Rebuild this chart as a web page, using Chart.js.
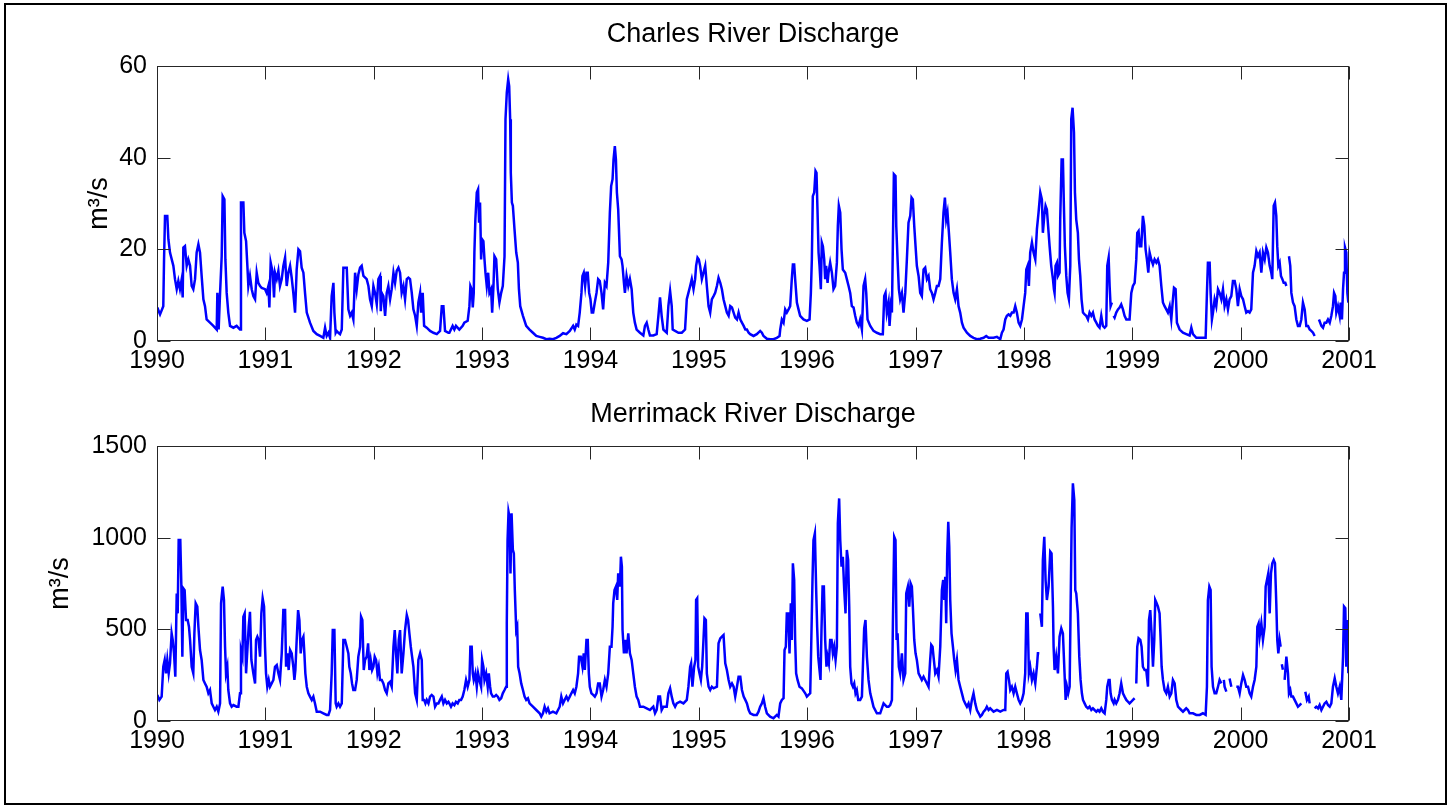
<!DOCTYPE html>
<html>
<head>
<meta charset="utf-8">
<title>Charles and Merrimack River Discharge, 1990–2001</title>
<script src="https://cdn.jsdelivr.net/npm/chart.js@4.4.1/dist/chart.umd.min.js"></script>
<style>
  html, body { margin: 0; padding: 0; background: #ffffff; }
  body { width: 1452px; height: 809px; position: relative; overflow: hidden; }
  #charlesCanvas { position: absolute; left: 0; top: 0; }
  #merrimackCanvas { position: absolute; left: 0; top: 380px; }
  .figure-frame {
    position: absolute; left: 4px; top: 3px; width: 1443px; height: 802px;
    border: 2px solid #000000; box-sizing: border-box; pointer-events: none;
  }
</style>
</head>
<body>
<canvas id="charlesCanvas" width="1452" height="380"></canvas>
<canvas id="merrimackCanvas" width="1452" height="429"></canvas>
<div class="figure-frame"></div>
<script>
// ---- Axis ticks ----
const yearTicks = [1990, 1991, 1992, 1993, 1994, 1995, 1996, 1997, 1998, 1999, 2000, 2001];
const charlesFlowTicks = [0, 20, 40, 60];
const merrimackFlowTicks = [0, 500, 1000, 1500];

// ---- Charles River discharge (m^3/s), decimal year / value; null = missing record ----
const charlesYears = [
  1990.003,1990.028,1990.058,1990.065,1990.074,1990.095,1990.105,1990.12,1990.151,1990.166,
  1990.182,1990.197,1990.212,1990.228,1990.237,1990.243,1990.258,1990.274,1990.289,1990.305,
  1990.32,1990.335,1990.351,1990.366,1990.382,1990.397,1990.412,1990.428,1990.443,1990.458,
  1990.489,1990.52,1990.551,1990.557,1990.569,1990.582,1990.597,1990.606,1990.622,1990.631,
  1990.643,1990.658,1990.674,1990.705,1990.735,1990.766,1990.775,1990.797,1990.806,1990.822,
  1990.834,1990.843,1990.858,1990.874,1990.889,1990.905,1990.92,1990.935,1990.951,1990.966,
  1990.997,1991.012,1991.028,1991.037,1991.049,1991.068,1991.08,1991.089,1991.105,1991.12,
  1991.135,1991.151,1991.166,1991.182,1991.197,1991.212,1991.228,1991.243,1991.258,1991.274,
  1991.289,1991.305,1991.32,1991.335,1991.351,1991.366,1991.382,1991.412,1991.443,1991.474,
  1991.505,1991.535,1991.551,1991.566,1991.582,1991.597,1991.612,1991.628,1991.637,1991.649,
  1991.658,1991.674,1991.689,1991.705,1991.72,1991.751,1991.766,1991.782,1991.797,1991.812,
  1991.828,1991.843,1991.858,1991.874,1991.889,1991.905,1991.935,1991.951,1991.966,1991.982,
  1991.997,1992.012,1992.028,1992.043,1992.058,1992.065,1992.074,1992.089,1992.105,1992.12,
  1992.135,1992.151,1992.166,1992.182,1992.197,1992.212,1992.228,1992.243,1992.258,1992.274,
  1992.289,1992.305,1992.32,1992.335,1992.351,1992.366,1992.382,1992.397,1992.412,1992.428,
  1992.437,1992.452,1992.465,1992.489,1992.52,1992.551,1992.582,1992.612,1992.628,1992.643,
  1992.658,1992.689,
  1992.698,1992.728,1992.744,1992.759,1992.79,1992.821,1992.836,1992.867,1992.883,1992.892,
  1992.904,1992.914,1992.923,1992.929,1992.938,1992.951,1992.963,1992.972,1992.981,1992.991,
  1993.0,1993.012,1993.022,1993.031,1993.043,1993.056,1993.068,1993.083,1993.093,1993.105,
  1993.114,1993.13,1993.145,1993.16,1993.176,1993.191,1993.207,1993.216,1993.228,1993.241,
  1993.25,1993.259,1993.265,1993.275,1993.284,1993.299,1993.315,1993.33,1993.34,1993.352,
  1993.377,1993.407,1993.438,1993.469,1993.5,1993.531,1993.562,1993.593,1993.623,1993.654,
  1993.685,1993.716,1993.747,1993.778,1993.809,1993.84,1993.855,1993.87,1993.886,1993.901,
  1993.917,1993.926,1993.938,1993.951,1993.963,1993.975,1993.988,1994.0,1994.012,1994.025,
  1994.04,1994.056,1994.071,1994.086,1994.102,1994.117,1994.133,1994.148,1994.164,1994.179,
  1994.191,1994.204,1994.213,1994.225,1994.235,1994.244,1994.256,1994.272,1994.287,1994.296,
  1994.309,1994.318,1994.333,1994.349,1994.364,1994.38,1994.395,1994.41,1994.426,1994.457,
  1994.488,1994.503,1994.519,1994.534,1994.549,1994.58,1994.611,1994.627,1994.642,1994.657,
  1994.673,1994.704,1994.719,1994.735,1994.75,1994.759,1994.781,1994.812,1994.843,1994.873,
  1994.889,1994.904,1994.92,1994.935,1994.951,1994.966,1994.975,1994.988,1995.0,1995.012,
  1995.028,1995.043,1995.059,1995.074,1995.09,1995.105,1995.12,1995.136,1995.151,1995.167,
  1995.182,1995.198,1995.213,1995.228,1995.244,1995.259,1995.275,1995.29,1995.306,1995.321,
  1995.336,1995.352,1995.367,1995.383,1995.398,1995.414,1995.429,1995.444,1995.46,
  1995.474,1995.505,1995.535,1995.566,1995.582,1995.597,1995.628,1995.658,1995.689,1995.72,
  1995.745,1995.751,1995.766,1995.782,1995.797,1995.812,1995.828,1995.843,1995.858,1995.868,
  1995.88,1995.889,1995.905,1995.92,1995.935,1995.966,1995.997,1996.022,1996.034,1996.043,
  1996.052,1996.065,1996.077,1996.086,1996.095,1996.105,1996.114,1996.126,1996.135,1996.145,
  1996.157,1996.166,1996.175,1996.188,1996.197,1996.212,1996.228,1996.243,1996.258,1996.274,
  1996.283,1996.292,1996.305,1996.317,1996.329,1996.351,1996.366,1996.382,1996.397,1996.412,
  1996.428,1996.443,1996.458,1996.474,1996.489,1996.505,1996.52,1996.535,1996.545,1996.557,
  1996.582,1996.612,1996.643,1996.674,1996.698,1996.711,1996.723,1996.735,1996.751,1996.76,
  1996.772,1996.782,1996.791,1996.8,1996.815,1996.822,1996.834,1996.846,1996.858,1996.874,
  1996.889,1996.905,1996.92,1996.935,1996.951,1996.963,1996.975,1996.988,1997.0,1997.012,
  1997.028,1997.043,1997.058,1997.074,1997.089,1997.105,1997.12,1997.135,1997.151,1997.166,
  1997.182,1997.197,1997.212,1997.228,1997.243,1997.258,1997.271,1997.283,1997.295,1997.308,
  1997.32,1997.335,1997.351,1997.366,1997.382,1997.397,1997.412,1997.428,1997.443,1997.474,
  1997.505,1997.535,1997.566,1997.597,1997.628,1997.652,1997.674,1997.72,1997.751,1997.782,
  1997.797,1997.812,1997.828,1997.843,1997.858,1997.874,1997.889,1997.905,1997.92,1997.935,
  1997.951,1997.966,1997.982,1997.997,1998.012,1998.022,1998.034,1998.046,1998.058,1998.074,
  1998.089,1998.105,1998.12,1998.135,1998.151,1998.166,1998.175,1998.188,1998.2,1998.212,
  1998.228,
  1998.237,1998.252,1998.268,1998.277,1998.283,1998.292,1998.305,1998.314,1998.329,1998.335,
  1998.348,1998.36,1998.369,1998.378,1998.391,1998.403,1998.415,1998.428,1998.437,1998.449,
  1998.462,1998.471,1998.483,1998.498,1998.508,1998.52,1998.532,1998.545,1998.56,1998.575,
  1998.591,1998.606,1998.622,1998.637,1998.652,1998.668,1998.683,1998.698,1998.714,1998.729,
  1998.745,1998.76,1998.769,1998.782,1998.791,1998.8,1998.812,1998.82,1998.828,1998.837,
  1998.852,1998.868,1998.883,1998.898,1998.914,1998.929,1998.945,1998.975,1998.991,1999.006,
  1999.022,1999.037,1999.046,1999.058,1999.068,1999.083,1999.098,1999.111,1999.123,1999.135,
  1999.148,1999.16,1999.175,1999.191,1999.206,1999.222,1999.237,1999.252,1999.268,1999.283,
  1999.298,1999.314,1999.329,1999.345,1999.36,1999.375,1999.385,1999.4,1999.412,1999.437,
  1999.468,1999.498,1999.529,1999.545,1999.56,1999.591,1999.622,1999.652,1999.677,1999.689,
  1999.698,1999.714,1999.723,1999.735,1999.745,1999.76,1999.775,1999.791,1999.806,1999.822,
  1999.837,1999.852,1999.868,1999.883,1999.898,1999.914,1999.929,1999.945,1999.96,1999.975,
  1999.991,2000.006,2000.022,2000.037,2000.052,2000.068,2000.083,2000.098,2000.114,2000.129,
  2000.145,2000.16,2000.175,2000.191,2000.206,2000.222,2000.237,2000.252,2000.268,2000.283,
  2000.292,2000.305,2000.317,2000.329,2000.338,2000.348,2000.36,2000.372,2000.385,2000.397,
  2000.412,2000.422,2000.434,2000.446,2000.458,2000.468,2000.483,2000.498,2000.514,2000.529,
  2000.545,2000.56,2000.575,2000.591,2000.606,2000.622,2000.637,2000.652,2000.668,2000.683,
  2000.7,2000.723,2000.745,2000.76,2000.775,2000.791,2000.806,2000.822,2000.837,2000.852,
  2000.862,2000.874,2000.883,2000.898,2000.914,2000.923,2000.935,2000.945,2000.954,2000.963,
  2000.975,2000.985,2000.994
];
const charlesFlow = [
  7.3,5.8,7.6,17.8,27.3,27.3,22.2,19.3,16.4,13.5,
  11.3,13.1,11.3,13.5,9.5,20.4,20.7,16.4,17.8,16.4,
  12.0,11.3,13.5,19.3,21.1,19.3,14.2,9.1,7.6,4.7,
  4.0,3.3,2.5,10.5,2.5,10.5,18.5,31.6,30.9,17.8,
  10.5,6.2,3.3,2.9,3.3,2.5,30.2,30.2,23.6,21.8,
  16.4,12.0,14.2,11.3,9.8,9.1,14.9,12.7,12.0,11.6,
  11.3,10.5,12.0,7.3,17.1,14.9,9.5,14.9,13.5,15.3,
  12.0,13.5,16.4,18.2,12.0,14.9,16.4,13.8,10.5,6.2,
  15.6,20.0,19.6,16.0,14.9,10.5,6.2,4.0,2.2,1.5,
  1.1,0.7,2.9,1.1,1.8,0.7,9.8,12.7,6.2,1.8,
  2.2,1.8,1.5,2.5,16.0,16.0,6.9,5.5,6.2,4.7,
  14.9,11.3,14.5,16.0,16.4,14.2,13.5,12.0,9.1,7.6,
  12.0,10.5,8.0,13.5,14.2,6.5,10.5,9.8,5.5,10.5,
  12.0,9.1,11.3,14.9,12.7,15.3,16.0,14.9,10.5,12.0,
  9.1,13.5,13.8,13.5,10.5,6.9,5.5,3.3,8.4,10.5,
  6.2,10.5,3.3,2.9,2.2,1.8,1.5,2.2,7.6,7.6,
  2.2,1.8,
  1.8,3.3,2.5,3.3,2.5,3.3,4.0,4.4,7.6,12.0,
  11.3,7.3,10.5,19.3,26.5,32.4,33.1,25.8,30.2,17.8,
  22.2,21.8,17.8,14.9,12.0,14.9,10.5,11.3,6.2,12.0,
  18.5,17.8,11.3,8.4,10.5,12.0,18.5,48.4,54.2,57.1,
  55.6,48.4,36.7,30.2,29.5,24.4,19.3,17.1,11.3,7.6,
  5.5,3.3,2.5,1.8,1.1,0.9,0.7,0.4,0.5,0.4,
  0.7,1.1,1.7,1.5,2.2,3.3,2.5,3.6,3.3,6.2,
  10.5,14.2,14.9,12.0,14.9,14.9,10.5,9.1,6.2,6.2,
  8.4,10.5,13.5,13.1,10.5,6.9,12.7,12.0,17.1,28.0,
  33.8,35.3,39.6,42.5,39.6,32.4,28.7,18.5,17.8,16.4,
  12.7,10.5,14.2,12.0,13.5,11.3,6.2,4.0,2.5,1.8,
  1.2,3.3,4.0,2.5,1.2,1.2,1.5,5.5,9.5,5.5,
  2.5,1.8,7.6,10.9,7.6,2.5,2.2,1.8,1.8,2.5,
  9.1,10.5,12.0,13.5,11.3,13.5,16.4,18.2,17.8,16.4,
  13.5,14.9,16.4,12.0,7.6,6.2,9.1,9.8,10.5,12.0,
  13.8,12.7,11.3,9.1,7.6,6.2,5.5,7.6,7.3,6.2,
  5.1,4.7,6.2,4.7,4.0,3.3,2.5,2.5,1.8,
  1.5,1.1,1.5,2.2,1.8,1.1,0.5,0.4,0.4,0.7,
  1.1,2.5,4.7,4.0,6.9,6.2,6.9,7.6,13.5,16.7,
  16.7,13.5,8.4,6.9,5.5,4.7,4.4,4.7,10.5,17.8,
  31.6,32.4,37.1,36.7,28.7,19.3,16.4,11.3,21.5,20.7,
  17.8,13.5,16.4,12.7,14.9,17.1,14.9,11.3,12.0,17.1,
  25.1,29.5,28.0,20.0,15.6,14.9,13.5,12.0,10.5,7.6,
  7.3,5.5,4.0,3.3,4.7,2.5,12.0,13.5,10.5,4.7,
  3.3,2.2,1.8,1.5,1.5,9.8,10.5,6.2,8.4,3.3,
  7.6,6.2,21.5,36.4,36.0,25.1,17.8,11.3,9.1,10.5,
  6.2,10.5,17.8,25.8,27.3,31.3,30.9,25.1,20.7,16.4,
  14.2,10.5,9.8,15.6,16.0,13.5,14.2,11.3,10.5,9.1,
  10.5,12.0,12.0,13.5,21.5,28.0,31.3,26.5,28.0,23.6,
  19.3,13.5,10.5,9.1,11.3,7.6,6.2,4.0,2.9,1.8,
  1.1,0.7,0.4,0.5,0.7,1.1,0.7,0.7,0.9,0.4,
  1.8,2.5,4.7,5.5,5.8,5.5,6.2,6.2,7.6,6.2,
  4.0,3.3,4.7,7.6,10.5,15.6,16.4,12.0,19.3,21.5,
  19.3,17.8,24.4,28.0,32.4,30.9,23.6,27.3,29.5,28.7,
  23.6,
  20.7,16.4,13.5,11.3,10.5,16.4,17.1,14.2,14.9,26.5,
  39.6,39.6,29.5,20.7,14.2,10.5,9.1,16.4,48.4,50.9,
  45.5,32.4,26.5,23.6,17.8,14.2,9.1,6.2,5.8,5.5,
  4.7,6.2,5.5,6.2,4.7,4.0,3.3,2.9,5.5,3.3,
  2.9,3.3,16.4,18.2,12.0,7.6,8.4,null,5.5,5.1,
  6.2,6.9,7.3,8.0,6.9,5.5,4.7,4.7,10.5,12.0,
  12.7,17.8,23.6,24.0,20.7,20.7,27.3,25.1,20.0,17.8,
  14.9,19.3,17.8,16.7,17.8,17.1,17.8,16.4,12.0,8.4,
  7.6,6.9,6.2,7.6,4.7,9.1,11.6,11.3,4.0,2.5,
  1.8,1.5,1.2,2.9,1.5,0.7,0.7,0.7,0.7,10.5,
  17.1,17.1,10.5,4.7,6.2,9.1,7.6,11.3,10.5,9.1,
  11.3,7.6,9.1,6.9,9.1,9.8,13.1,13.1,11.3,7.6,
  11.3,9.8,9.1,7.6,6.2,6.5,6.2,6.9,14.9,16.4,
  19.6,18.5,19.3,14.9,19.3,17.8,20.4,19.3,16.4,14.9,
  13.5,29.5,30.2,27.3,20.7,16.4,17.1,14.2,13.5,12.7,
  12.7,12.0,null,18.5,16.4,10.5,8.4,7.6,4.7,3.3,
  3.3,4.7,8.4,6.9,3.3,3.3,2.5,2.2,1.8,1.1,
  null,4.7,3.3,2.9,4.0,4.0,4.7,4.0,5.5,7.6,
  10.5,9.8,6.2,7.6,5.5,8.4,4.7,11.3,14.9,20.4,
  19.3,10.5,8.4
];

// ---- Merrimack River discharge (m^3/s), decimal year / value; null = missing record ----
const merrimackYears = [
  1990.003,1990.022,1990.043,1990.058,1990.071,1990.083,1990.095,1990.108,1990.12,1990.135,
  1990.145,1990.157,1990.169,1990.182,1990.191,1990.2,1990.215,1990.225,1990.234,1990.243,
  1990.255,1990.268,1990.283,1990.295,1990.305,1990.32,1990.335,1990.345,1990.357,1990.372,
  1990.382,1990.397,1990.412,1990.428,1990.443,1990.458,1990.474,1990.489,1990.505,1990.52,
  1990.535,1990.551,1990.566,1990.582,1990.591,1990.606,1990.618,1990.628,1990.637,1990.649,
  1990.658,1990.674,1990.689,1990.705,1990.735,1990.751,1990.766,1990.775,1990.788,1990.797,
  1990.809,1990.822,1990.834,1990.846,1990.858,1990.871,1990.889,1990.905,1990.914,1990.926,
  1990.938,1990.951,1990.963,1990.975,1990.988,1990.997,1991.006,1991.018,1991.031,1991.043,
  1991.058,1991.074,1991.089,1991.105,1991.12,1991.135,1991.151,1991.166,1991.182,1991.191,
  1991.203,1991.215,1991.228,1991.243,1991.258,1991.268,1991.277,1991.289,1991.302,1991.314,
  1991.326,1991.338,1991.351,1991.36,1991.369,1991.382,1991.397,1991.412,1991.428,1991.443,
  1991.458,1991.474,1991.505,1991.535,1991.566,1991.582,1991.597,1991.612,1991.622,1991.637,
  1991.649,1991.658,1991.674,1991.689,1991.705,1991.72,1991.735,1991.751,1991.766,1991.775,
  1991.788,1991.8,1991.812,1991.828,1991.843,1991.858,1991.874,1991.883,1991.895,1991.908,
  1991.92,1991.935,1991.948,1991.96,1991.972,1991.985,1991.997,1992.009,1992.022,1992.034,
  1992.046,1992.058,1992.074,1992.089,1992.105,1992.12,1992.135,1992.151,1992.166,1992.182,
  1992.194,1992.206,1992.218,1992.231,1992.243,1992.258,1992.274,1992.289,1992.305,1992.317,
  1992.329,1992.342,1992.354,1992.366,1992.382,1992.397,1992.412,1992.428,1992.443,1992.452,
  1992.465,1992.477,1992.489,1992.505,1992.52,1992.535,1992.551,1992.566,1992.582,1992.597,
  1992.612,1992.628,1992.643,1992.658,1992.674,1992.689,
  1992.698,1992.713,1992.728,1992.744,1992.759,1992.775,1992.79,1992.806,1992.821,1992.836,
  1992.852,1992.867,1992.883,1992.892,1992.904,1992.914,1992.923,1992.938,1992.951,1992.963,
  1992.975,1992.991,1993.0,1993.012,1993.022,1993.037,1993.052,1993.062,1993.074,1993.083,
  1993.099,1993.114,1993.13,1993.145,1993.16,1993.176,1993.191,1993.207,1993.222,1993.228,
  1993.235,1993.244,1993.253,1993.262,1993.272,1993.284,1993.293,1993.302,1993.315,1993.324,
  1993.333,1993.346,1993.361,1993.377,1993.392,1993.407,1993.423,1993.438,1993.469,1993.5,
  1993.531,1993.546,1993.562,1993.577,1993.593,1993.608,1993.623,1993.654,1993.685,1993.716,
  1993.731,1993.747,1993.762,1993.778,1993.793,1993.809,1993.824,1993.84,1993.855,1993.87,
  1993.886,1993.895,1993.91,1993.926,1993.938,1993.948,1993.963,1993.975,1993.985,1993.994,
  1994.009,1994.025,1994.04,1994.056,1994.071,1994.086,1994.102,1994.117,1994.133,1994.148,
  1994.164,1994.179,1994.194,1994.204,1994.21,1994.222,1994.235,1994.247,1994.256,1994.272,
  1994.281,1994.29,1994.296,1994.309,1994.321,1994.333,1994.349,1994.364,1994.38,1994.395,
  1994.41,1994.426,1994.441,1994.457,1994.488,1994.519,1994.549,1994.58,1994.596,1994.611,
  1994.627,1994.642,1994.657,1994.673,1994.704,1994.719,1994.735,1994.75,1994.765,1994.781,
  1994.796,1994.827,1994.858,1994.889,1994.904,1994.92,1994.929,1994.941,1994.957,1994.969,
  1994.975,1994.985,1994.994,1995.006,1995.019,1995.031,1995.043,1995.052,1995.065,1995.074,
  1995.09,1995.105,1995.12,1995.136,1995.167,1995.182,1995.198,1995.213,1995.228,1995.244,
  1995.259,1995.275,1995.29,1995.306,1995.321,1995.336,1995.352,1995.367,1995.383,1995.398,
  1995.414,1995.429,1995.444,1995.46,
  1995.474,1995.505,1995.535,1995.551,1995.566,1995.582,1995.597,1995.612,1995.628,1995.658,
  1995.689,1995.72,1995.735,1995.751,1995.766,1995.782,1995.791,1995.803,1995.812,1995.825,
  1995.837,1995.849,1995.858,1995.868,1995.88,1995.889,1995.898,1995.911,1995.929,1995.951,
  1995.982,1995.997,1996.012,1996.028,1996.037,1996.049,1996.058,1996.071,1996.083,1996.092,
  1996.102,1996.114,1996.123,1996.132,1996.142,1996.154,1996.166,1996.178,1996.188,1996.2,
  1996.212,1996.225,1996.237,1996.249,1996.262,1996.274,1996.283,1996.295,1996.305,1996.317,
  1996.329,1996.342,1996.354,1996.366,1996.378,1996.388,1996.397,1996.409,1996.422,1996.434,
  1996.446,1996.458,1996.471,1996.489,1996.505,1996.514,1996.526,1996.538,1996.551,1996.566,
  1996.582,1996.597,1996.612,1996.643,1996.674,1996.705,1996.72,1996.735,1996.751,1996.766,
  1996.782,1996.791,1996.803,1996.815,1996.825,1996.834,1996.846,1996.858,1996.874,1996.889,
  1996.905,1996.914,1996.929,1996.942,1996.954,1996.966,1996.975,1996.988,1997.0,1997.012,
  1997.028,1997.043,1997.058,1997.074,1997.089,1997.105,1997.12,1997.135,1997.145,1997.157,
  1997.166,1997.182,1997.197,1997.212,1997.228,1997.243,1997.255,1997.265,1997.274,1997.283,
  1997.292,1997.302,1997.311,1997.32,1997.332,1997.345,1997.357,1997.369,1997.382,1997.397,
  1997.412,1997.428,1997.443,1997.458,1997.474,1997.489,1997.505,1997.52,1997.535,1997.551,
  1997.566,1997.582,1997.597,1997.612,1997.628,1997.643,1997.658,1997.674,1997.689,1997.72,
  1997.751,1997.782,1997.812,1997.828,1997.837,1997.849,1997.862,1997.874,1997.889,1997.905,
  1997.92,1997.935,1997.951,1997.966,1997.982,1997.997,1998.012,1998.022,1998.034,1998.046,
  1998.058,1998.074,1998.089,1998.105,1998.12,1998.129,1998.142,1998.147,1998.151,1998.166,
  1998.175,1998.188,1998.2,1998.212,1998.228,
  1998.243,1998.255,1998.268,1998.274,1998.283,1998.298,1998.314,1998.329,1998.345,1998.36,
  1998.375,1998.385,1998.397,1998.409,1998.422,1998.431,1998.44,1998.452,1998.465,1998.474,
  1998.483,1998.498,1998.511,1998.523,1998.535,1998.545,1998.56,1998.575,1998.591,1998.606,
  1998.622,1998.637,1998.652,1998.668,1998.683,1998.698,1998.714,1998.729,1998.745,1998.76,
  1998.769,1998.782,1998.791,1998.8,1998.812,1998.828,1998.837,1998.852,1998.868,1998.883,
  1998.898,1998.914,1998.929,1998.945,1998.96,1998.975,1998.991,1999.006,1999.022,1999.03,
  1999.037,1999.046,1999.058,1999.074,1999.086,1999.098,1999.114,1999.129,1999.145,1999.154,
  1999.166,1999.178,1999.191,1999.203,1999.212,1999.225,1999.237,1999.252,1999.262,1999.271,
  1999.283,1999.298,1999.314,1999.329,1999.345,1999.36,1999.375,1999.391,1999.406,1999.422,
  1999.437,1999.452,1999.468,1999.483,1999.498,1999.514,1999.529,1999.56,1999.591,1999.622,
  1999.652,1999.677,1999.689,1999.698,1999.711,1999.723,1999.732,1999.745,1999.76,1999.775,
  1999.791,1999.806,1999.822,1999.83,1999.845,1999.852,1999.868,1999.88,1999.898,1999.914,
  1999.93,1999.96,1999.975,1999.991,2000.006,2000.022,2000.037,2000.052,2000.068,2000.083,
  2000.098,2000.114,2000.129,2000.145,2000.154,2000.166,2000.175,2000.191,2000.206,2000.222,
  2000.231,2000.243,2000.255,2000.268,2000.28,2000.292,2000.305,2000.317,2000.329,2000.338,
  2000.348,2000.36,2000.369,2000.375,2000.38,2000.39,2000.398,2000.406,2000.422,2000.437,2000.446,
  2000.458,2000.468,2000.483,2000.498,2000.514,2000.529,2000.545,2000.56,2000.58,2000.597,
  2000.612,2000.628,2000.637,2000.66,2000.683,2000.698,2000.714,2000.729,2000.745,2000.76,
  2000.775,2000.791,2000.806,2000.822,2000.837,2000.852,2000.868,2000.883,2000.898,2000.914,
  2000.929,2000.945,2000.954,2000.966,2000.975,2000.985,2000.994
];
const merrimackFlow = [
  142,115,133,296,333,260,333,260,315,478,
  442,369,242,696,587,987,987,733,351,724,
  714,551,551,514,442,296,260,478,642,624,
  514,387,333,224,205,187,151,169,96,78,
  60,78,51,96,642,733,660,405,260,296,
  169,96,78,87,78,78,151,387,351,569,
  587,260,387,514,596,333,260,205,442,460,
  442,351,587,669,624,405,260,187,224,187,
  205,224,296,305,260,224,369,605,605,296,
  369,278,387,369,296,224,278,442,605,551,
  369,442,460,369,260,187,151,133,115,133,
  96,51,51,42,33,33,60,260,496,496,
  96,78,96,78,96,442,442,405,369,296,
  260,205,169,169,224,351,405,569,551,278,
  333,351,424,278,333,278,296,351,333,260,
  296,224,224,205,169,151,205,214,187,405,
  496,369,260,442,496,260,369,496,578,551,
  478,405,351,296,151,115,333,369,333,115,
  115,96,115,96,133,142,133,78,96,96,
  115,133,96,115,96,105,
  96,78,96,87,105,96,115,115,133,169,
  224,187,224,405,405,260,224,260,187,260,
  224,187,333,296,224,260,187,260,187,151,
  133,133,142,133,115,124,151,169,187,533,
  987,1142,1114,805,1133,933,914,714,496,514,
  296,260,205,169,133,115,124,96,78,60,
  42,24,42,78,51,69,42,51,42,78,
  133,96,115,133,115,133,151,169,151,187,
  260,351,351,296,369,278,442,442,260,187,
  151,142,133,151,205,205,133,169,224,187,
  260,405,405,514,642,714,733,660,805,733,
  896,842,496,369,442,369,478,369,333,260,
  187,133,115,78,78,69,60,78,42,60,
  133,133,60,78,78,151,178,133,96,78,
  96,105,96,115,187,296,315,187,296,333,
  660,669,296,260,224,296,442,560,551,260,
  187,169,187,178,187,424,451,460,469,315,
  278,224,187,205,187,133,187,242,242,169,
  133,115,96,60,
  42,33,33,51,78,96,124,78,42,24,
  15,33,24,96,115,124,387,405,587,587,
  369,642,442,860,769,442,260,224,187,178,
  151,133,142,151,405,769,987,1024,714,514,
  351,278,224,496,733,733,442,296,351,315,
  442,442,369,405,333,405,1078,1214,987,842,
  896,714,587,933,878,624,296,205,187,205,
  151,169,115,115,133,296,505,551,351,224,
  151,115,78,42,42,96,87,78,78,87,
  115,533,1005,987,442,478,296,260,369,224,
  260,696,733,624,751,733,624,442,369,333,
  260,242,224,242,224,205,187,333,415,405,
  351,260,278,242,405,714,769,660,787,533,
  896,1087,951,660,478,405,333,278,333,224,
  187,151,115,96,78,96,60,115,151,96,
  60,42,24,33,51,60,78,60,69,51,
  60,51,60,60,260,269,224,169,187,151,
  187,151,115,96,115,151,260,587,587,260,
  296,224,260,205,296,369,369,null,587,514,
  878,1005,769,660,733,
  924,914,624,405,278,351,260,460,505,478,
  260,115,187,151,187,624,1051,1296,1205,714,
  696,587,351,224,151,115,96,78,69,78,
  60,69,60,51,60,51,69,51,42,115,
  187,224,224,151,115,96,115,96,115,151,
  205,151,133,115,105,96,105,115,124,null,
  205,405,451,442,405,296,278,278,187,551,
  605,478,296,442,660,642,624,587,442,296,
  224,169,151,187,133,151,224,205,115,78,
  69,60,51,60,69,60,42,42,33,33,
  42,33,187,660,733,714,296,187,151,151,
  187,224,205,null,224,187,160,null,232,187,
  null,187,187,151,205,251,224,187,187,151,
  133,187,224,296,514,533,460,533,442,514,
  733,769,805,587,805,860,878,860,642,442,
  369,442,405,null,310,280,null,224,351,260,151,
  169,133,133,115,96,78,87,96,null,160,
  115,133,96,null,69,78,69,87,60,78,
  96,105,87,78,96,187,233,187,151,187,
  115,351,624,615,296,551,260
];

// ---- Shared styling ----
const FONT = "'Liberation Sans', Arial, Helvetica, sans-serif";
const LINE_BLUE = '#0000ff';
const AXIS_GREY = '#262626';
const TICK_LEN = 13;

function toPoints(years, values) {
  return years.map((t, i) => ({ x: t, y: values[i] }));
}

// Draws the closed axes box and inward-pointing tick marks on all four sides
const boxedAxes = {
  id: 'boxedAxes',
  afterDatasetsDraw(chart) {
    const { ctx, chartArea: a, scales: { x, y } } = chart;
    const L = Math.round(a.left) + 0.5, R = Math.round(a.right) - 0.5;
    const T = Math.round(a.top) + 0.5, B = Math.round(a.bottom) - 0.5;
    ctx.save();
    ctx.strokeStyle = AXIS_GREY;
    ctx.lineWidth = 1;
    ctx.beginPath();
    x.ticks.forEach(tk => {
      const px = Math.round(x.getPixelForValue(tk.value)) + 0.5;
      ctx.moveTo(px, B); ctx.lineTo(px, B - TICK_LEN);
      ctx.moveTo(px, T); ctx.lineTo(px, T + TICK_LEN);
    });
    y.ticks.forEach(tk => {
      const py = Math.round(y.getPixelForValue(tk.value)) + 0.5;
      ctx.moveTo(L, py); ctx.lineTo(L + TICK_LEN, py);
      ctx.moveTo(R, py); ctx.lineTo(R - TICK_LEN, py);
    });
    ctx.stroke();
    ctx.strokeRect(L, T, R - L, B - T);
    ctx.restore();
  }
};

function makeChart(canvasId, cfg) {
  return new Chart(document.getElementById(canvasId), {
    type: 'line',
    data: {
      datasets: [{
        data: toPoints(cfg.years, cfg.values),
        borderColor: LINE_BLUE,
        borderWidth: 2.5,
        pointRadius: 0,
        tension: 0,
        spanGaps: false,
        fill: false
      }]
    },
    options: {
      responsive: false,
      animation: false,
      devicePixelRatio: 1,
      events: [],
      layout: { padding: { left: 0, right: 103, top: 0, bottom: 0 } },
      plugins: {
        legend: { display: false },
        tooltip: { enabled: false },
        title: {
          display: true,
          text: cfg.title,
          fullSize: false,
          color: '#000000',
          font: { family: FONT, size: 27, weight: 'normal', lineHeight: 1 },
          padding: { top: 21.5, bottom: 17.5 }
        }
      },
      scales: {
        x: {
          type: 'linear',
          min: yearTicks[0],
          max: yearTicks[yearTicks.length - 1],
          afterFit: s => { s.height = cfg.xAxisHeight; },
          afterBuildTicks: s => { s.ticks = yearTicks.map(v => ({ value: v })); },
          grid: { display: false, drawTicks: false },
          border: { display: false },
          ticks: {
            autoSkip: false, maxRotation: 0, color: '#000000', padding: 5,
            font: { family: FONT, size: 25 },
            callback: v => String(v)
          }
        },
        y: {
          type: 'linear',
          min: cfg.yTicks[0],
          max: cfg.yTicks[cfg.yTicks.length - 1],
          afterFit: s => { s.width = 157; },
          afterBuildTicks: s => { s.ticks = cfg.yTicks.map(v => ({ value: v })); },
          grid: { display: false, drawTicks: false },
          border: { display: false },
          ticks: {
            color: '#000000', padding: 10,
            font: { family: FONT, size: 25 },
            callback: v => String(v)
          },
          title: {
            display: true,
            text: 'm³/s',
            color: '#000000',
            font: { family: FONT, size: 27, lineHeight: 1 },
            padding: { top: cfg.yTitleOffset, bottom: 0 }
          }
        }
      }
    },
    plugins: [boxedAxes]
  });
}

makeChart('charlesCanvas', {
  title: 'Charles River Discharge',
  years: charlesYears,
  values: charlesFlow,
  yTicks: charlesFlowTicks,
  xAxisHeight: 39,
  yTitleOffset: 86.5
});

makeChart('merrimackCanvas', {
  title: 'Merrimack River Discharge',
  years: merrimackYears,
  values: merrimackFlow,
  yTicks: merrimackFlowTicks,
  xAxisHeight: 88,
  yTitleOffset: 47.5
});
</script>
</body>
</html>
